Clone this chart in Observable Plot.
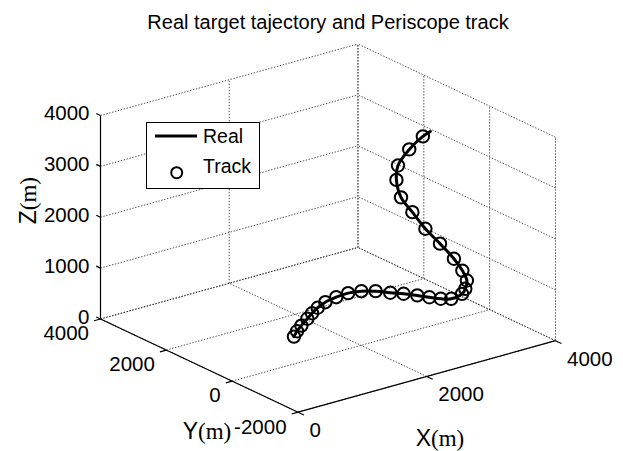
<!DOCTYPE html>
<html><head><meta charset="utf-8">
<script src="https://cdn.jsdelivr.net/npm/d3@7"></script>
<script src="https://cdn.jsdelivr.net/npm/@observablehq/plot@0.6"></script>
<style>
html,body{margin:0;padding:0;background:#fff;}
#wrap{position:relative;width:623px;height:451px;overflow:hidden;}
#legend{position:absolute;left:146px;top:122px;width:114px;height:67px;border:1.2px solid #000;background:#fff;box-sizing:border-box;}
#legend svg{position:absolute;left:-1.2px;top:-1.2px;overflow:visible;}
</style></head><body><div id="wrap"></div>
<script>
const titleText = "Real target tajectory and Periscope track";
const legendLabels = ["Real", "Track"];
const xLim = [0, 4000], yLim = [-2000, 4000], zLim = [0, 4000];
const xTicks = [0, 2000, 4000];
const yTicks = [-2000, 0, 2000, 4000];
const zTicks = [0, 1000, 2000, 3000, 4000];
const az = -37.5, el = 30;

// Periscope track (circles)
const trackX = [1000,1140,1300,1500,1660,1830,2020,2230,2430,2600,2740,2850,2960,3060,3140,3220,3320,3530,3560,3590,3540,3440,3300,3150,3050,2930,2930,2980,3160,3300];
const trackY = [80,260,440,650,820,980,1120,1200,1230,1160,1000,770,580,360,150,-40,-160,-80,-120,-110,-70,-10,140,290,490,600,740,790,800,660];
const trackZ = [500,500,500,500,500,500,500,500,500,500,500,500,500,500,500,500,500,500,600,750,950,1200,1500,1800,2100,2400,2700,2950,3200,3450];

// Real target trajectory (solid line)
const realX = [1000,1140,1300,1500,1660,1830,2020,2230,2430,2600,2740,2850,2960,3060,3140,3220,3320,3530,3560,3590,3540,3440,3300,3150,3050,2930,2930,2980,3160,3300,3370];
const realY = [80,260,440,650,820,980,1120,1200,1230,1160,1000,770,580,360,150,-40,-160,-80,-120,-110,-70,-10,140,290,490,600,740,790,800,660,570];
const realZ = [500,500,500,500,500,500,500,500,500,500,500,500,500,500,500,500,500,500,600,750,950,1200,1500,1800,2100,2400,2700,2950,3200,3450,3550];

const rad = Math.PI / 180;
const ca = Math.cos(az * rad), sa = Math.sin(az * rad), ce = Math.cos(el * rad), se = Math.sin(el * rad);
function proj(X, Y, Z) {
  const xn = (X - xLim[0]) / (xLim[1] - xLim[0]) - 0.5;
  const yn = (Y - yLim[0]) / (yLim[1] - yLim[0]) - 0.5;
  const zn = (Z - zLim[0]) / (zLim[1] - zLim[0]) - 0.5;
  return {u: ca * xn + sa * yn, v: -se * sa * xn + se * ca * yn + ce * zn};
}
const uMax = 0.5 * (Math.abs(ca) + Math.abs(sa));
const vMax = 0.5 * (Math.abs(se * sa) + Math.abs(se * ca) + ce);
function seg(a, b) { const p = proj(...a), q = proj(...b); return {u1: p.u, v1: p.v, u2: q.u, v2: q.v}; }

const [x0, x1] = xLim, [y0, y1] = yLim, [z0, z1] = zLim;
const grid = [];
for (const X of xTicks) grid.push(seg([X, y0, z0], [X, y1, z0]));
for (const Y of yTicks) grid.push(seg([x0, Y, z0], [x1, Y, z0]));
for (const X of xTicks) grid.push(seg([X, y1, z0], [X, y1, z1]));
for (const Z of zTicks) grid.push(seg([x0, y1, Z], [x1, y1, Z]));
for (const Y of yTicks) grid.push(seg([x1, Y, z0], [x1, Y, z1]));
for (const Z of zTicks) grid.push(seg([x1, y0, Z], [x1, y1, Z]));

const axes = [
  seg([x0, y1, z0], [x0, y1, z1]),
  seg([x0, y0, z0], [x0, y1, z0]),
  seg([x0, y0, z0], [x1, y0, z0])
];
const ticks = [];
for (const Z of zTicks) ticks.push(seg([x0, y1, Z], [x0, y1 + 130, Z]));
for (const Y of yTicks) ticks.push(seg([x0, Y, z0], [x0 - 100, Y, z0]));
for (const X of xTicks) ticks.push(seg([X, y0, z0], [X, y0 - 180, z0]));

const zLab = zTicks.map(Z => ({...proj(x0, y1, Z), t: String(Z)}));
const yLab = yTicks.map(Y => ({...proj(x0, Y, z0), t: String(Y)}));
const xLab = xTicks.map(X => ({...proj(X, y0, z0), t: String(X)}));

const track = trackX.map((X, i) => proj(X, trackY[i], trackZ[i]));
const real = realX.map((X, i) => proj(X, realY[i], realZ[i]));

const sans = "'Liberation Sans', Arial, Helvetica, sans-serif";
const serif = "'Liberation Serif', 'Times New Roman', serif";
const tickFont = 20.5, labFont = 23;

const aY = proj(x0, (y0 + y1) / 2, z0);
const aX = proj((x0 + x1) / 2, y0, z0);
const aZ = proj(x0, y1, (z0 + z1) / 2);

const chart = Plot.plot({
  width: 623, height: 451,
  marginLeft: 100, marginRight: 68, marginTop: 43.5, marginBottom: 39.3,
  x: {domain: [-uMax, uMax], axis: null},
  y: {domain: [-vMax, vMax], axis: null},
  style: {background: "#fff", overflow: "visible", fontFamily: sans},
  marks: [
    Plot.link(grid, {x1: "u1", y1: "v1", x2: "u2", y2: "v2", stroke: "#222", strokeWidth: 0.8, strokeDasharray: "1.4,1.6"}),
    Plot.link(axes, {x1: "u1", y1: "v1", x2: "u2", y2: "v2", stroke: "#000", strokeWidth: 1.2}),
    Plot.link(ticks, {x1: "u1", y1: "v1", x2: "u2", y2: "v2", stroke: "#000", strokeWidth: 1.2}),
    Plot.text(zLab, {x: "u", y: "v", text: "t", textAnchor: "end", dx: -11, dy: -1.7, fontSize: tickFont, fill: "#000"}),
    Plot.text(yLab, {x: "u", y: "v", text: "t", textAnchor: "end", dx: -11.5, dy: 14.8, fontSize: tickFont, fill: "#000"}),
    Plot.text(xLab, {x: "u", y: "v", text: "t", textAnchor: "start", dx: 11.5, dy: 18.3, fontSize: tickFont, fill: "#000"}),
    Plot.line(real, {x: "u", y: "v", stroke: "#000", strokeWidth: 3, curve: "catmull-rom"}),
    Plot.dot(track, {x: "u", y: "v", r: 6.2, stroke: "#000", strokeWidth: 2, fill: "none"}),
    Plot.text([titleText], {frameAnchor: "top", text: d => d, lineAnchor: "bottom", dy: -15.5, fontSize: 20, fill: "#000"}),
    Plot.text([aY], {x: "u", y: "v", text: () => "Y", textAnchor: "end", lineAnchor: "bottom", dx: -1.3, dy: 73.9, fontSize: labFont, fill: "#000"}),
    Plot.text([aY], {x: "u", y: "v", text: () => "(m)", textAnchor: "start", lineAnchor: "bottom", dx: -1.3, dy: 73.9, fontSize: labFont, fontFamily: serif, fill: "#000"}),
    Plot.text([aX], {x: "u", y: "v", text: () => "X", textAnchor: "end", lineAnchor: "bottom", dx: 4.2, dy: 69.6, fontSize: labFont, fill: "#000"}),
    Plot.text([aX], {x: "u", y: "v", text: () => "(m)", textAnchor: "start", lineAnchor: "bottom", dx: 4.2, dy: 69.6, fontSize: labFont, fontFamily: serif, fill: "#000"}),
    Plot.text([aZ], {x: "u", y: "v", text: () => "Z", rotate: -90, textAnchor: "end", lineAnchor: "bottom", dx: -65, dy: -7, fontSize: labFont, fill: "#000"}),
    Plot.text([aZ], {x: "u", y: "v", text: () => "(m)", rotate: -90, textAnchor: "start", lineAnchor: "bottom", dx: -65, dy: -7, fontSize: labFont, fontFamily: serif, fill: "#000"})
  ]
});
const wrap = document.getElementById("wrap");
wrap.appendChild(chart);

const legend = document.createElement("div");
legend.id = "legend";
legend.innerHTML = `<svg width="114" height="67" font-family="${sans.replace(/"/g, "")}">
  <line x1="9" y1="14" x2="51" y2="14" stroke="#000" stroke-width="3"/>
  <text x="57" y="21.3" font-size="19.5" fill="#000">${legendLabels[0]}</text>
  <circle cx="30.7" cy="50.7" r="5.5" fill="none" stroke="#000" stroke-width="2"/>
  <text x="57" y="51.3" font-size="19.5" fill="#000">${legendLabels[1]}</text>
</svg>`;
wrap.appendChild(legend);
</script>
</body></html>
